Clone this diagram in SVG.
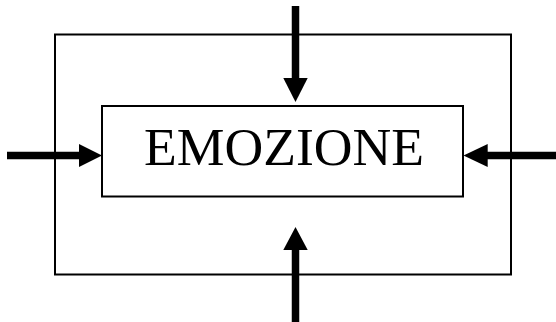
<svg xmlns="http://www.w3.org/2000/svg" width="556" height="322" viewBox="0 0 556 322">
<style>
.box{fill:none;stroke:#000;stroke-width:2}
.shaft{stroke:#000;stroke-width:7.5;fill:none}
.head{fill:#000}
.lbl{font-family:"Liberation Serif","DejaVu Serif",serif;font-size:53px;fill:#000}
</style>
<rect width="556" height="322" fill="#fff"/>
<g id="outer"><rect class="box" x="55" y="34.5" width="456" height="240"/></g>
<g id="emozione">
<rect class="box" x="102" y="106" width="361" height="90.5"/>
<text class="lbl" x="144" y="165" textLength="280" lengthAdjust="spacingAndGlyphs">EMOZIONE</text>
</g>
<g id="connectors">
<line class="shaft" x1="295.5" y1="6" x2="295.5" y2="80"/>
<polygon class="head" points="283.3,78 307.7,78 295.5,102"/>
<line class="shaft" x1="295.5" y1="322" x2="295.5" y2="248"/>
<polygon class="head" points="283.3,250 307.7,250 295.5,227"/>
<line class="shaft" x1="7" y1="155.5" x2="81" y2="155.5"/>
<polygon class="head" points="79,144 79,167 102,155.5"/>
<line class="shaft" x1="556" y1="155.5" x2="486" y2="155.5"/>
<polygon class="head" points="487.7,144 487.7,167 463.5,155.5"/>
</g>
</svg>
